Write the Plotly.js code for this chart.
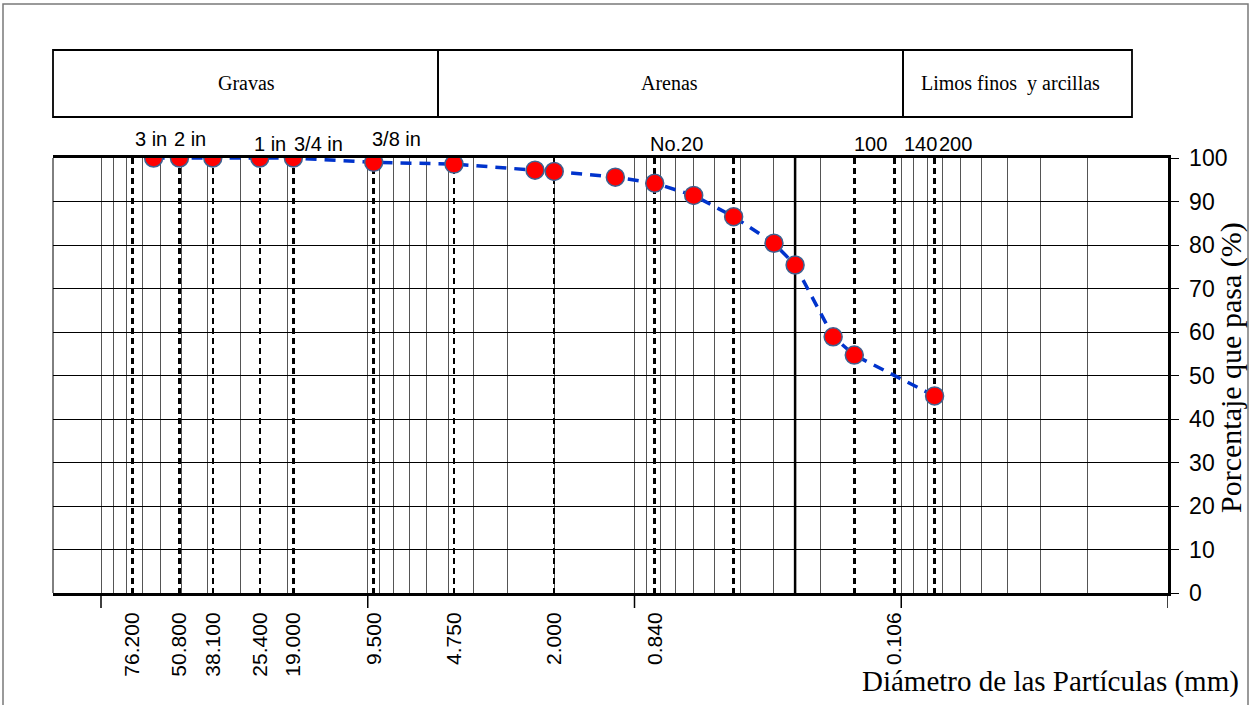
<!DOCTYPE html>
<html>
<head>
<meta charset="utf-8">
<script src="https://cdn.plot.ly/plotly-3.0.1.min.js"></script>
<style>html,body{margin:0;padding:0;background:#fff;}#chart{width:1250px;height:705px;}</style>
</head>
<body>
<div id="chart"></div>
<script>
// Sieve openings (mm) and percent passing
const sizes   = [63.5, 50.8, 38.1, 25.4, 19.0, 9.5, 4.75, 2.36, 2.0, 1.18, 0.84, 0.60, 0.425, 0.30, 0.25, 0.18, 0.15, 0.075];
const passing = [100, 100, 100, 100, 100, 99.0, 98.6, 97.2, 96.9, 95.6, 94.2, 91.4, 86.5, 80.4, 75.4, 58.9, 54.7, 45.3];

// Dashed reference sieve lines and their bottom labels
const sieveLines  = [76.2, 50.8, 38.1, 25.4, 19.0, 9.5, 4.75, 2.0, 0.84, 0.425, 0.15, 0.106, 0.075];
const sieveLabels = ['76.200','50.800','38.100','25.400','19.000','9.500','4.750','2.000','0.840','','','0.106',''];
const solidLines  = [0.25];

// Sieve names shown above the plot
const topLabels = ['3 in','2 in','1 in','3/4 in','3/8 in','No.20','100','140','200'];
const topLabelPx = [151, 190, 270, 318, 396, 676, 870, 920, 955];
const topLabelPy = [139, 139, 144, 144, 139, 144, 144, 144, 144];

// Soil class header
const classes   = ['Gravas','Arenas','Limos finos  y arcillas'];
const classEdgesPx = [53, 438, 903, 1132];
const classTextPx  = [246, 669, 1010];

const yTicks = [0,10,20,30,40,50,60,70,80,90,100];
const decades = [100, 10, 1, 0.1, 0.01];

// plot geometry helpers (pixel -> paper)
const L = 53, R = 1168, T = 158, B = 593;
const px = v => (v - L) / (R - L);
const py = v => (B - v) / (B - T);

// minor log grid values
const minorVals = [];
[0.01, 0.1, 1, 10, 100].forEach(d => { for (let k = 1; k <= 9; k++) minorVals.push(+(d * k).toPrecision(3)); });

const xRange = [Math.log10(100) + (101 - L) / 266.75, -2];

const traces = [{
  x: sizes, y: passing, type: 'scatter', mode: 'lines+markers',
  line: {color: '#0033cc', width: 3.5, dash: '11px,8px'},
  marker: {color: '#ff0000', size: 18, line: {color: '#3f6190', width: 1.5}},
  hoverinfo: 'x+y', showlegend: false
}];

const shapes = [];
// outer frame
shapes.push({type:'rect', xref:'paper', yref:'paper', x0: px(3), x1: px(1248), y0: py(720), y1: py(4),
  line:{color:'#7a7a7a', width:1.5}, layer:'below'});
// header boxes
for (let i = 0; i < classes.length; i++) {
  shapes.push({type:'rect', xref:'paper', yref:'paper', x0: px(classEdgesPx[i]), x1: px(classEdgesPx[i+1]),
    y0: py(117), y1: py(50), line:{color:'#000', width:1.8}});
}
// solid reference line(s)
solidLines.forEach(v => shapes.push({type:'line', xref:'x', yref:'paper', x0: v, x1: v, y0: 0, y1: 1,
  line:{color:'#000', width:2.5}, layer:'below'}));
// decade tick marks below the axis
decades.forEach(v => shapes.push({type:'line', xref:'x', yref:'paper', x0: v, x1: v, y0: 0, y1: py(608),
  line:{color:'#000', width:1.5}}));
// left plot edge
shapes.push({type:'line', xref:'paper', yref:'paper', x0:0, x1:0, y0:0, y1:1, line:{color:'#000', width:1}});

const annotations = [];
topLabels.forEach((t, i) => annotations.push({text: t, xref:'paper', yref:'paper', x: px(topLabelPx[i]), y: py(topLabelPy[i]),
  xanchor:'center', yanchor:'middle', showarrow:false, font:{family:'Arial, Liberation Sans', size:20, color:'#000'}}));
classes.forEach((t, i) => annotations.push({text: t, xref:'paper', yref:'paper', x: px(classTextPx[i]), y: py(83),
  xanchor:'center', yanchor:'middle', showarrow:false, font:{family:'Liberation Serif, Times New Roman', size:20, color:'#000'}}));
annotations.push({text:'Porcentaje que pasa (%)', xref:'paper', yref:'paper', x: px(1231), y: py(368), textangle:-90,
  xanchor:'center', yanchor:'middle', showarrow:false, font:{family:'Liberation Serif, Times New Roman', size:30, color:'#000'}});
annotations.push({text:'Diámetro de las Partículas (mm)', xref:'paper', yref:'paper', x: px(1050), y: py(681),
  xanchor:'center', yanchor:'middle', showarrow:false, font:{family:'Liberation Serif, Times New Roman', size:29, color:'#000'}});

const layout = {
  width: 1250, height: 705,
  margin: {l: L, r: 1250 - R, t: T, b: 705 - B, pad: 0},
  paper_bgcolor: '#fff', plot_bgcolor: '#fff',
  showlegend: false,
  xaxis: {
    type: 'log', range: xRange, autorange: false,
    tickmode: 'array', tickvals: sieveLines, ticktext: sieveLabels,
    tickangle: -90, ticks: '', ticklabelstandoff: 8,
    tickfont: {family: 'Arial, Liberation Sans', size: 21, color: '#000'},
    showgrid: true, gridcolor: '#000', gridwidth: 2.5, griddash: '6px,4px',
    minor: {tickmode: 'array', tickvals: minorVals, showgrid: true, gridcolor: '#555', gridwidth: 1, griddash: 'solid', ticks: ''},
    showline: true, linecolor: '#000', linewidth: 3, mirror: true,
    zeroline: false, fixedrange: true
  },
  yaxis: {
    range: [0, 100], autorange: false, side: 'right',
    tickmode: 'array', tickvals: yTicks, ticks: 'outside', ticklen: 8, tickcolor: '#000', tickwidth: 1,
    ticklabelstandoff: 6,
    tickfont: {family: 'Arial, Liberation Sans', size: 23, color: '#000'},
    showgrid: true, gridcolor: '#000', gridwidth: 1,
    showline: true, linecolor: '#000', linewidth: 2.5,
    zeroline: false, fixedrange: true
  },
  shapes: shapes,
  annotations: annotations
};

Plotly.newPlot('chart', traces, layout, {displayModeBar: false, staticPlot: true});
</script>
</body>
</html>
